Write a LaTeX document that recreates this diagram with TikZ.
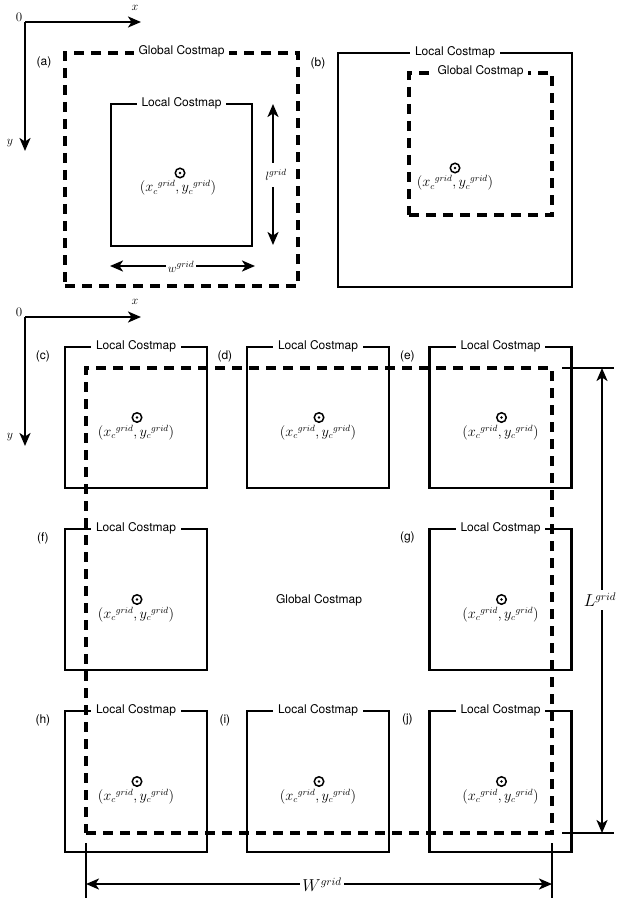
\documentclass[tikz,border=0pt]{standalone}
\usepackage{fontspec}
\setsansfont{TeX Gyre Heros}
\usetikzlibrary{arrows.meta,calc}
\tikzset{
  solidbox/.style={draw, line width=2.2pt, inner sep=0pt},
  dashbox/.style={draw, line width=3.2pt, dash pattern=on 10pt off 7pt, inner sep=0pt},
  boxlabel/.style={fill=white, font=\sffamily\fontsize{12}{14}\selectfont, inner xsep=5pt, inner ysep=1pt},
  tag/.style={font=\sffamily\fontsize{12}{14}\selectfont, inner sep=0pt},
  axisarrow/.style={-{Stealth[length=13pt,width=11pt,inset=3.5pt]}, line width=2.2pt},
  dimarrow/.style={{Stealth[length=13pt,width=11pt,inset=3.5pt]}-{Stealth[length=13pt,width=11pt,inset=3.5pt]}, line width=2.2pt},
  extline/.style={line width=1.8pt},
  marker/.style={circle, draw, line width=1.5pt, minimum size=9.5pt, inner sep=0pt},
  coordtext/.style={font=\fontsize{13.5}{15}\selectfont, inner sep=0pt},
  mathlabel/.style={font=\fontsize{13}{15}\selectfont, inner sep=0pt},
  biglabel/.style={font=\fontsize{16}{18}\selectfont, fill=white, inner xsep=2pt, inner ysep=3pt}
}
\newcommand{\ctext}{$\left({x_c}^{grid},{y_c}^{grid}\right)$}
\begin{document}
\begin{tikzpicture}[x=1pt,y=-1pt]
\useasboundingbox (0,0) rectangle (616,901);

% ---------------- panel (a) ----------------
\coordinate (oA) at (25,22);
\coordinate (xA) at (141,22);
\coordinate (yA) at (25,151);
\draw[axisarrow] (oA) -- (xA);
\draw[axisarrow] (oA) -- (yA);
\node[mathlabel] (zeroA) at (19,17) {0};
\node[mathlabel] (xlA) at (135,8) {$x$};
\node[mathlabel] (ylA) at (10,143) {$y$};
\node[tag] (tagA) at (44,62) {(a)};
\node[dashbox, minimum width=233pt, minimum height=233pt] (gA) at (181.5,169.5) {};
\node[solidbox, minimum width=141pt, minimum height=142pt] (lA) at (181.5,175) {};
\node[boxlabel] (gAl) at (gA.north) {Global Costmap};
\node[boxlabel] (lAl) at (lA.north) {Local Costmap};
\node[marker] (mA) at (180,173) {};
\fill (mA) circle (1.4pt);
\node[coordtext] (tA) at (178,188) {\ctext};
\coordinate (lAt) at (273,104);
\coordinate (lAb) at (273,245);
\draw[dimarrow] (lAt) -- (lAb);
\node[mathlabel, fill=white, inner ysep=7pt, inner xsep=1pt] (lAlab) at (276,175) {$l^{grid}$};
\coordinate (wAl) at (110,266);
\coordinate (wAr) at (255,266);
\draw[dimarrow] (wAl) -- (wAr);
\node[mathlabel, fill=white, inner xsep=2pt, inner ysep=2pt] (wAlab) at (181,267) {$w^{grid}$};

% ---------------- panel (b) ----------------
\node[tag] (tagB) at (318,63) {(b)};
\node[solidbox, minimum width=234pt, minimum height=234pt] (lB) at (455,170) {};
\node[dashbox, minimum width=143pt, minimum height=142pt] (gB) at (480.5,144) {};
\node[boxlabel] (lBl) at (lB.north) {Local Costmap};
\node[boxlabel] (gBl) at (gB.north) {Global Costmap};
\node[marker] (mB) at (455,168) {};
\fill (mB) circle (1.4pt);
\node[coordtext] (tB) at (455,183) {\ctext};

% ---------------- panels (c)-(j) ----------------
\coordinate (oC) at (25,317);
\coordinate (xC) at (141,317);
\coordinate (yC) at (25,446);
\draw[axisarrow] (oC) -- (xC);
\draw[axisarrow] (oC) -- (yC);
\node[mathlabel] (zeroC) at (19,312) {0};
\node[mathlabel] (xlC) at (135,302) {$x$};
\node[mathlabel] (ylC) at (10,437) {$y$};

\foreach \nm/\cx/\cy in {c/136/417.5, d/318/417.5, e/500.5/417.5,
                         f/136/599.5, g/500.5/599.5,
                         h/136/781.5, i/318/781.5, j/500.5/781.5}{
  \node[solidbox, minimum width=142pt, minimum height=141pt] (b\nm) at (\cx,\cy) {};
}
\node[dashbox, minimum width=466pt, minimum height=465pt] (gBig) at (319,600.5) {};
\foreach \nm/\cx/\cy in {c/136/417.5, d/318/417.5, e/500.5/417.5,
                         f/136/599.5, g/500.5/599.5,
                         h/136/781.5, i/318/781.5, j/500.5/781.5}{
  \node[boxlabel] (b\nm l) at (b\nm.north) {Local Costmap};
  \node[tag] (t\nm) at ($(b\nm.north west)+(-21,10)$) {(\nm)};
  \node[marker] (m\nm) at ($(b\nm.center)+(1,0)$) {};
  \fill (m\nm) circle (1.4pt);
  \node[coordtext] (c\nm) at ($(b\nm.center)+(0,15)$) {\ctext};
}
\node[boxlabel, fill=none] (gBigl) at (319,600) {Global Costmap};

% extension lines
\coordinate (e1a) at (562,368); \coordinate (e1b) at (614,368);
\coordinate (e2a) at (562,833); \coordinate (e2b) at (614,833);
\coordinate (e3a) at (86,843);  \coordinate (e3b) at (86,898);
\coordinate (e4a) at (552,843); \coordinate (e4b) at (552,898);
\draw[extline] (e1a) -- (e1b);
\draw[extline] (e2a) -- (e2b);
\draw[extline] (e3a) -- (e3b);
\draw[extline] (e4a) -- (e4b);

% dimension arrows
\coordinate (Lt) at (602,368); \coordinate (Lb) at (602,833);
\draw[dimarrow] (Lt) -- (Lb);
\node[biglabel] (Llab) at (600,600) {$L^{grid}$};
\coordinate (Wl) at (86,884); \coordinate (Wr) at (552,884);
\draw[dimarrow] (Wl) -- (Wr);
\node[biglabel, inner ysep=1pt] (Wlab) at (322,885) {$W^{grid}$};
\end{tikzpicture}
\end{document}
